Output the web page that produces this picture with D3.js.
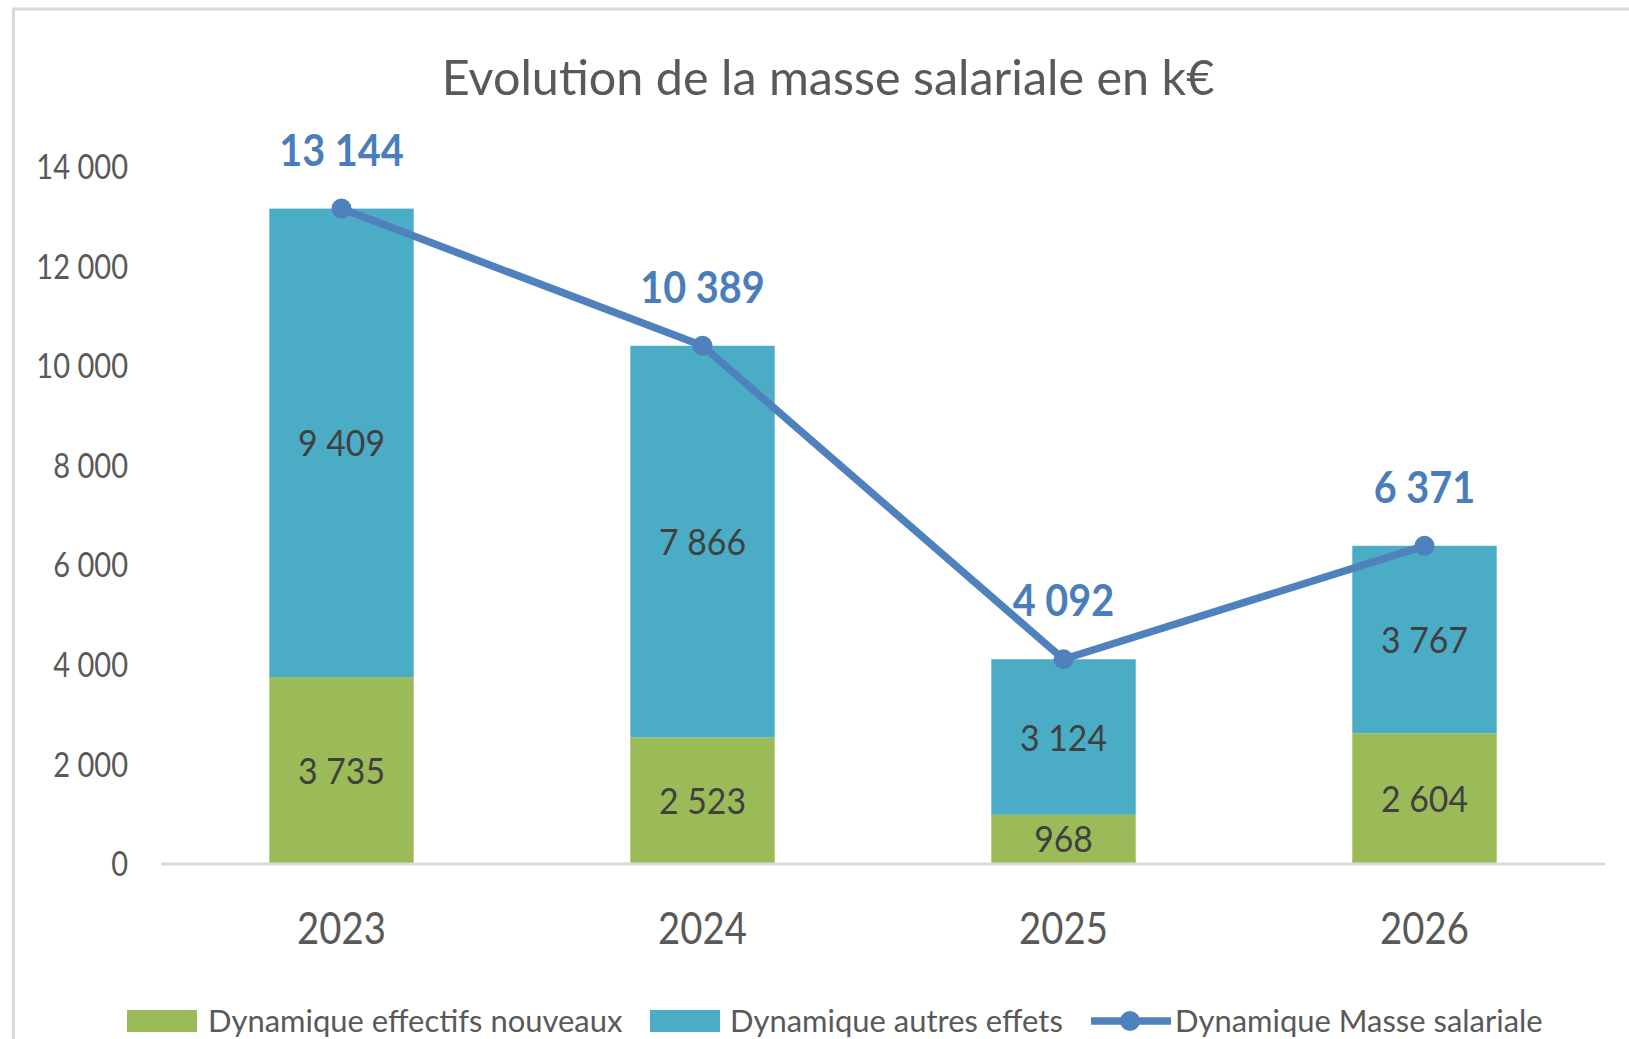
<!DOCTYPE html>
<meta charset="utf-8">
<style>
  body { margin: 0; background: #fff; }
  text { font-family: Lato, "Open Sans", sans-serif; }
</style>
<body>
<svg width="1629" height="1039"></svg>
<script src="https://d3js.org/d3.v7.min.js"></script>
<script>
// data (k€)
var years = ["2023", "2024", "2025", "2026"];
var effectifs = [3735, 2523, 968, 2604];      // Dynamique effectifs nouveaux
var autres = [9409, 7866, 3124, 3767];        // Dynamique autres effets
var masse = [13144, 10389, 4092, 6371];       // Dynamique Masse salariale
var yTicks = [0, 2000, 4000, 6000, 8000, 10000, 12000, 14000];
var seriesNames = ["Dynamique effectifs nouveaux", "Dynamique autres effets", "Dynamique Masse salariale"];

var green = "#9bbb59", teal = "#4bacc6", blue = "#4f81bd";

var svg = d3.select("svg");

// thousands separated by a space, french style
var fmt = d3.formatLocale({decimal: ",", thousands: " ", grouping: [3], currency: ["", " €"]}).format(",d");

// chart frame (cut at right & bottom like the screenshot)
svg.append("rect")
  .attr("x", 13.5).attr("y", 9)
  .attr("width", 1800).attr("height", 1200)
  .attr("fill", "none").attr("stroke", "#d9d9d9").attr("stroke-width", 3);

var x = d3.scaleBand().domain(years).range([161, 1605]).paddingInner(0.6).paddingOuter(0.3);
var y = d3.scaleLinear().domain([0, 14000]).range([863, 166]);

// condensed text helper
function label(g, px, py, s, size, sx, color, weight) {
  return g.append("text")
    .attr("transform", "translate(" + px + "," + py + ") scale(" + sx + ",1)")
    .attr("text-anchor", "middle")
    .attr("font-size", size)
    .attr("font-weight", weight || "normal")
    .attr("fill", color)
    .text(s);
}

// title
label(svg, 828, 95, "Evolution de la masse salariale en k€", 49, 0.99, "#595959");

// y axis
var yAxis = svg.append("g")
  .attr("transform", "translate(128,0)")
  .call(d3.axisLeft(y).tickValues(yTicks).tickSize(0).tickPadding(0).tickFormat(fmt));
yAxis.select(".domain").remove();
yAxis.selectAll("text")
  .attr("font-family", "Lato, sans-serif")
  .attr("font-size", 35)
  .attr("fill", "#595959")
  .attr("dy", "0.36em")
  .attr("transform", "scale(0.83,1)");

// stacked bars
var stacked = years.map(function(yr, i) {
  return [
    {year: yr, y0: 0, y1: effectifs[i], v: effectifs[i], color: green},
    {year: yr, y0: effectifs[i], y1: effectifs[i] + autres[i], v: autres[i], color: teal}
  ];
});
var segs = stacked.flat();

svg.append("g").selectAll("rect")
  .data(segs)
  .join("rect")
  .attr("x", function(d) { return x(d.year); })
  .attr("width", x.bandwidth())
  .attr("y", function(d) { return y(d.y1); })
  .attr("height", function(d) { return y(d.y0) - y(d.y1); })
  .attr("fill", function(d) { return d.color; });

// baseline
svg.append("line")
  .attr("x1", 161).attr("x2", 1605)
  .attr("y1", y(0) + 1).attr("y2", y(0) + 1)
  .attr("stroke", "#d9d9d9").attr("stroke-width", 3);

// labels inside segments
var segLabels = svg.append("g");
segs.forEach(function(d) {
  label(segLabels, x(d.year) + x.bandwidth() / 2, y((d.y0 + d.y1) / 2) + 13.5, fmt(d.v), 37.5, 0.9, "#404040");
});

// category labels
var xl = svg.append("g");
years.forEach(function(yr) {
  label(xl, x(yr) + x.bandwidth() / 2, 944, yr, 44.5, 0.86, "#595959");
});

// total line
var cx = function(i) { return x(years[i]) + x.bandwidth() / 2; };
var line = d3.line().x(function(d, i) { return cx(i); }).y(function(d) { return y(d); });
svg.append("path")
  .datum(masse)
  .attr("d", line)
  .attr("fill", "none")
  .attr("stroke", blue)
  .attr("stroke-width", 7.5)
  .attr("stroke-linejoin", "round");

svg.append("g").selectAll("circle")
  .data(masse)
  .join("circle")
  .attr("cx", function(d, i) { return cx(i); })
  .attr("cy", function(d) { return y(d); })
  .attr("r", 10)
  .attr("fill", blue);

var topLabels = svg.append("g");
masse.forEach(function(v, i) {
  label(topLabels, cx(i), y(v) - 43, fmt(v), 44, 0.9, "#4a7ebb", "bold");
});

// legend
var lg = svg.append("g");
lg.append("rect").attr("x", 127).attr("y", 1010).attr("width", 70).attr("height", 22).attr("fill", green);
lg.append("rect").attr("x", 650).attr("y", 1010).attr("width", 70).attr("height", 22).attr("fill", teal);
lg.append("line").attr("x1", 1091).attr("x2", 1171).attr("y1", 1021).attr("y2", 1021)
  .attr("stroke", blue).attr("stroke-width", 7.5);
lg.append("circle").attr("cx", 1130).attr("cy", 1021).attr("r", 10).attr("fill", blue);

var legX = [208, 730, 1175];
seriesNames.forEach(function(n, i) {
  label(lg, legX[i], 1032, n, 30.5, 1.015, "#595959").attr("text-anchor", "start");
});
</script>
</body>
